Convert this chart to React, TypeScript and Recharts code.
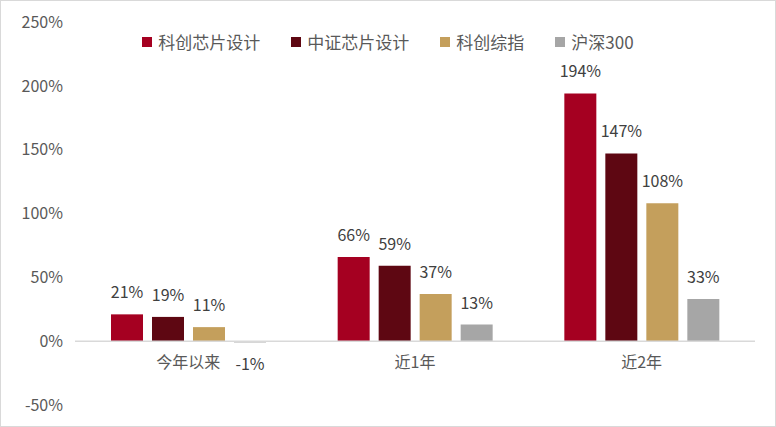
import { BarChart, Bar, XAxis, YAxis, ReferenceLine, Legend, LabelList } from 'recharts'

const categories = ['今年以来', '近1年', '近2年']
const seriesNames = ['科创芯片设计', '中证芯片设计', '科创综指', '沪深300']
const kcChipDesign = [21, 66, 194]
const csiChipDesign = [19, 59, 147]
const kcComposite = [11, 37, 108]
const hs300 = [-1, 13, 33]
const yTicks = [-50, 0, 50, 100, 150, 200, 250]

const colors = ['#A50021', '#5E0712', '#C49F5C', '#A6A6A6']
const keys = ['s0', 's1', 's2', 's3']
const seriesValues = [kcChipDesign, csiChipDesign, kcComposite, hs300]

const chartData = categories.map((name, i) => {
  const row: Record<string, string | number> = { name }
  seriesValues.forEach((vals, k) => {
    row[keys[k]] = vals[i]
  })
  return row
})

const FONT = '"Microsoft YaHei", "Noto Sans CJK SC", sans-serif'
const pct = (v: any) => `${v}%`

// category labels sit just under the 0% line, not at the bottom of the plot
function CategoryTick({ x, y, payload }: any) {
  return (
    <text x={x} y={y - 43} dy="0.35em" textAnchor="middle" fill="#595959" fontSize={16} fontFamily={FONT}>
      {payload.value}
    </text>
  )
}

// legend keeps the series order (recharts would sort it by name)
function LegendRow() {
  return (
    <div style={{ display: 'flex', justifyContent: 'center', alignItems: 'center', fontFamily: FONT }}>
      {seriesNames.map((name, i) => (
        <div key={name} style={{ display: 'flex', alignItems: 'center', marginRight: i < seriesNames.length - 1 ? 31 : 0 }}>
          <span style={{ width: 10, height: 10, background: colors[i], marginRight: 6, display: 'inline-block' }} />
          <span style={{ fontSize: 17, color: '#595959', lineHeight: '22px' }}>{name}</span>
        </div>
      ))}
    </div>
  )
}

export default function App() {
  return (
    <div style={{ width: 776, height: 427, boxSizing: 'border-box', border: '1px solid #d9d9d9', background: '#fff', position: 'relative' }}>
      <style>{`body{margin:0}`}</style>
      <BarChart
        width={774}
        height={425}
        data={chartData}
        margin={{ top: 21, right: 20, bottom: 20, left: 0 }}
        barSize={32}
        barGap={9}
      >
        <XAxis
          dataKey="name"
          height={1}
          axisLine={false}
          tickLine={false}
          tickSize={0}
          tickMargin={0}
          tick={<CategoryTick />}
          interval={0}
        />
        <YAxis
          width={74}
          domain={[-50, 250]}
          ticks={yTicks}
          tickFormatter={pct}
          axisLine={false}
          tickLine={false}
          tickSize={0}
          tickMargin={12}
          tick={{ fill: '#595959', fontSize: 16, fontFamily: FONT }}
        />
        <ReferenceLine y={0} stroke="#d9d9d9" strokeWidth={1.5} />
        <Legend
          layout="horizontal"
          verticalAlign="middle"
          content={<LegendRow />}
          wrapperStyle={{ top: 30, left: 0, width: 774 }}
        />
        {keys.map((k, i) => (
          <Bar key={k} dataKey={k} name={seriesNames[i]} fill={colors[i]} isAnimationActive={false}>
            <LabelList dataKey={k} position="top" offset={16} formatter={pct} fill="#404040" fontSize={16} fontFamily={FONT} />
          </Bar>
        ))}
      </BarChart>
    </div>
  )
}
